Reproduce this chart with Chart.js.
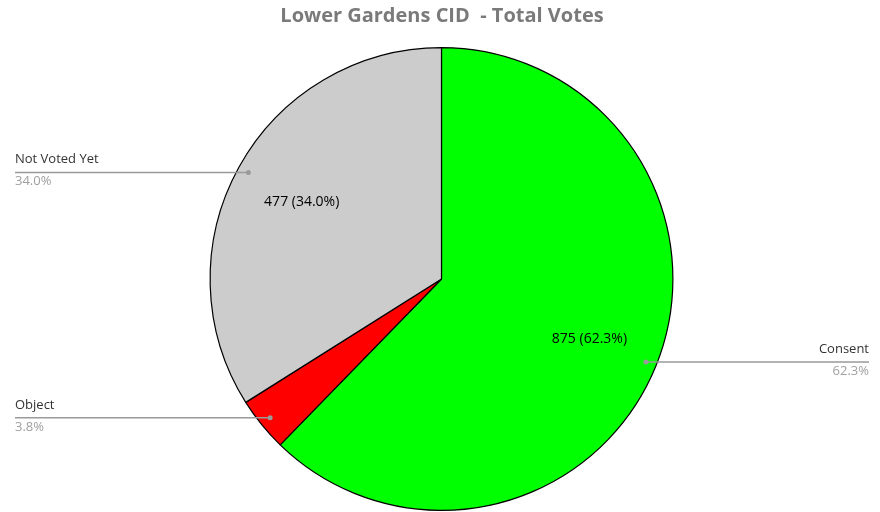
<!DOCTYPE html>
<html><head><meta charset="utf-8">
<script src="https://cdn.jsdelivr.net/npm/chart.js@4"></script>
<style>html,body{margin:0;padding:0;background:#fff}#wrap{width:880px;height:512px}</style>
</head><body><div id="wrap"><canvas id="c" width="880" height="512"></canvas></div>
<script>
const titleText = 'Lower Gardens CID  - Total Votes';
const categories = ['Consent', 'Object', 'Not Voted Yet'];
const votes = [875, 53, 477];
const percentLabels = ['62.3%', '3.8%', '34.0%'];
const colors = ['#00ff00', '#ff0000', '#cccccc'];

const labelPlugin = {
  id: 'labelPlugin',
  afterDraw(chart) {
    const ctx = chart.ctx;
    const meta = chart.getDatasetMeta(0);
    ctx.save();
    // title
    ctx.font = 'bold 20px "Open Sans"';
    ctx.fillStyle = '#7a7a7a';
    ctx.textAlign = 'center';
    ctx.textBaseline = 'middle';
    ctx.fillText(titleText, 442, 16);
    meta.data.forEach((arc, i) => {
      const p = arc.getProps(['x','y','startAngle','endAngle','outerRadius'], true);
      const mid = (p.startAngle + p.endAngle) / 2;
      const R = p.outerRadius;
      // inside value labels (only larger slices)
      if (i !== 1) {
        const r = R * 0.69;
        const tx = p.x + Math.cos(mid) * r, ty = p.y + Math.sin(mid) * r;
        ctx.font = '14px "Open Sans"';
        ctx.fillStyle = '#000';
        ctx.textAlign = 'center';
        ctx.textBaseline = 'middle';
        ctx.fillText(votes[i] + ' (' + percentLabels[i] + ')', tx, ty);
      }
      // leader line
      const dr = R * 0.953;
      const dx = p.x + Math.cos(mid) * dr, dy = p.y + Math.sin(mid) * dr;
      const right = Math.cos(mid) > 0;
      const endX = right ? 869 : 15;
      ctx.strokeStyle = '#9a9a9a';
      ctx.lineWidth = 1.5;
      ctx.beginPath();
      ctx.moveTo(dx, dy);
      ctx.lineTo(endX, dy);
      ctx.stroke();
      ctx.fillStyle = '#9a9a9a';
      ctx.beginPath();
      ctx.arc(dx, dy, 2.5, 0, Math.PI * 2);
      ctx.fill();
      ctx.textAlign = right ? 'right' : 'left';
      ctx.textBaseline = 'middle';
      ctx.font = '13px "Open Sans"';
      ctx.fillStyle = '#333';
      ctx.fillText(categories[i], endX, dy - 13);
      ctx.fillStyle = '#a0a0a0';
      ctx.fillText(percentLabels[i], endX, dy + 9);
    });
    ctx.restore();
  }
};

new Chart(document.getElementById('c'), {
  type: 'pie',
  data: {
    labels: categories,
    datasets: [{
      data: votes,
      backgroundColor: colors,
      borderColor: '#000',
      borderWidth: 1.2
    }]
  },
  options: {
    responsive: false,
    animation: false,
    layout: { padding: { top: 47, bottom: 1, left: 3, right: 0 } },
    plugins: {
      legend: { display: false },
      title: { display: false },
      tooltip: { enabled: false }
    }
  },
  plugins: [labelPlugin]
});
</script>
</body></html>
